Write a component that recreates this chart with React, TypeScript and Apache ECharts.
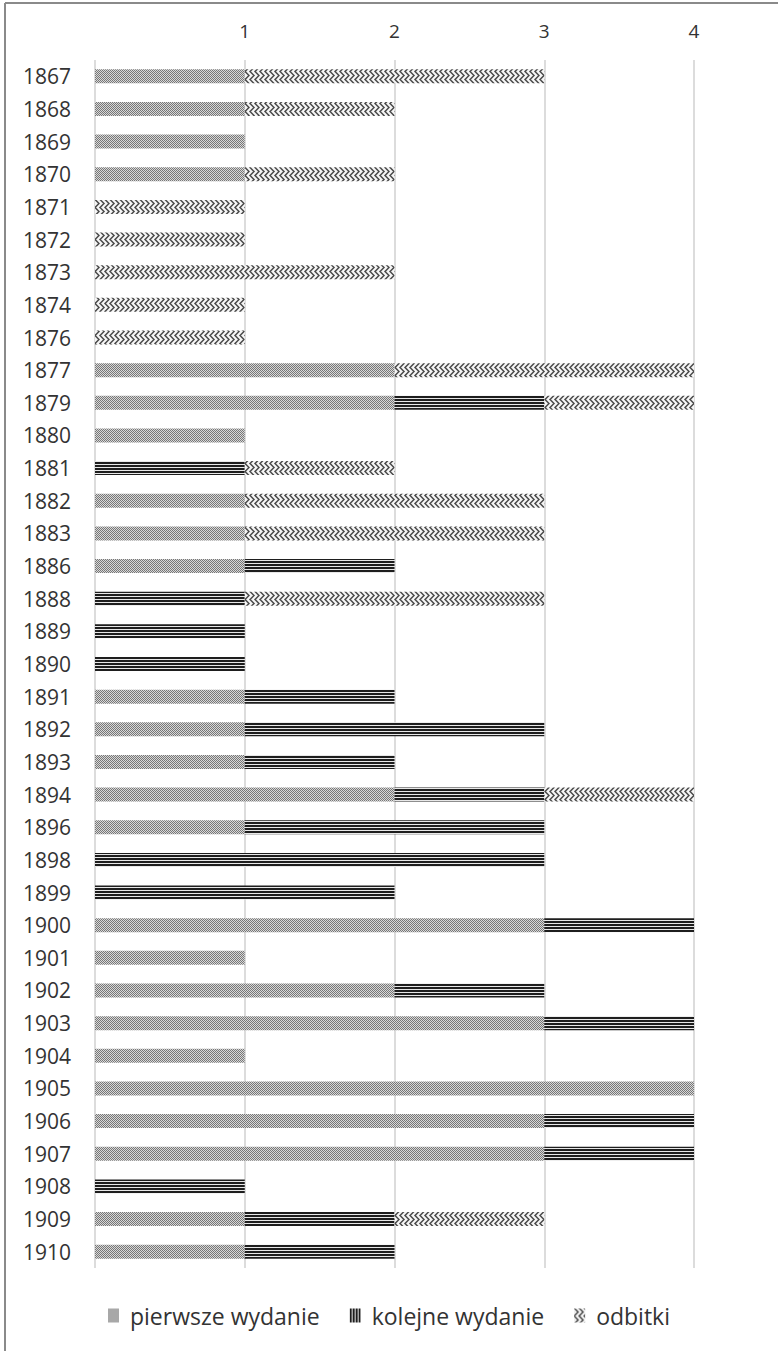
import React, { useEffect, useRef } from "react";
import * as echarts from "echarts";

const years = ["1867","1868","1869","1870","1871","1872","1873","1874","1876","1877","1879","1880","1881","1882","1883","1886","1888","1889","1890","1891","1892","1893","1894","1896","1898","1899","1900","1901","1902","1903","1904","1905","1906","1907","1908","1909","1910"];
const pierwsze = [1,1,1,1,0,0,0,0,0,2,2,1,0,1,1,1,0,0,0,1,1,1,2,1,0,0,3,1,2,3,1,4,3,3,0,1,1];
const kolejne  = [0,0,0,0,0,0,0,0,0,0,1,0,1,0,0,1,1,1,1,1,2,1,1,2,3,2,1,0,1,1,0,0,1,1,1,1,1];
const odbitki  = [2,1,0,1,1,1,2,1,1,2,1,0,1,2,2,0,2,0,0,0,0,0,1,0,0,0,0,0,0,0,0,0,0,0,0,1,0];
const seriesNames = ["pierwsze wydanie", "kolejne wydanie", "odbitki"];
const xTicks = [0, 1, 2, 3, 4];

function makeCanvas(w: number, h: number, draw: (c: CanvasRenderingContext2D) => void) {
  const cv = document.createElement("canvas");
  cv.width = w;
  cv.height = h;
  const ctx = cv.getContext("2d")!;
  draw(ctx);
  return cv;
}

function dotsPattern() {
  return makeCanvas(4, 4, (c) => {
    c.fillStyle = "#d8d8d8";
    c.fillRect(0, 0, 4, 4);
    c.fillStyle = "#777777";
    c.fillRect(0, 0, 1, 1);
    c.fillRect(2, 0, 1, 1);
    c.fillRect(1, 1, 1, 1);
    c.fillRect(3, 1, 1, 1);
    c.fillRect(0, 2, 1, 1);
    c.fillRect(2, 2, 1, 1);
    c.fillRect(1, 3, 1, 1);
    c.fillRect(3, 3, 1, 1);
  });
}

function hLinesPattern() {
  return makeCanvas(4, 3, (c) => {
    c.fillStyle = "#e8e8e8";
    c.fillRect(0, 0, 4, 3);
    c.fillStyle = "#1e1e1e";
    c.fillRect(0, 0, 4, 2);
  });
}

function vLinesPattern() {
  return makeCanvas(3, 4, (c) => {
    c.fillStyle = "#e8e8e8";
    c.fillRect(0, 0, 3, 4);
    c.fillStyle = "#1e1e1e";
    c.fillRect(0, 0, 2, 4);
  });
}

function zigzagPattern() {
  return makeCanvas(10, 8, (c) => {
    c.fillStyle = "#f6f6f6";
    c.fillRect(0, 0, 10, 8);
    c.strokeStyle = "#4a4a4a";
    c.lineWidth = 1.5;
    c.beginPath();
    for (let s = -5; s <= 10; s += 5) {
      c.moveTo(s, -0.5);
      c.lineTo(s + 4, 3.5);
      c.lineTo(s, 7.5);
      c.lineTo(s + 4, 11.5);
    }
    c.stroke();
  });
}

export default function App() {
  const ref = useRef<HTMLDivElement>(null);
  useEffect(() => {
    if (!ref.current) return;
    const chart = echarts.init(ref.current, undefined, { renderer: "svg" });
    const pDots = { image: dotsPattern(), repeat: "repeat" as const };
    const pLines = { image: hLinesPattern(), repeat: "repeat" as const };
    const pVLines = { image: vLinesPattern(), repeat: "repeat" as const };
    const pZig = { image: zigzagPattern(), repeat: "repeat" as const };
    const fills = [pDots, pLines, pZig];
    const legendFills = [pDots, pVLines, pZig];
    const datas = [pierwsze, kolejne, odbitki];
    const font = "'Open Sans', 'Noto Sans', sans-serif";
    chart.setOption({
      animation: false,
      backgroundColor: "#ffffff",
      textStyle: { fontFamily: font },
      grid: { left: 95, right: 84, top: 60, bottom: 83, containLabel: false },
      legend: {
        bottom: 19,
        left: "center",
        itemWidth: 11,
        itemHeight: 14,
        itemGap: 30,
        icon: "rect",
        textStyle: { fontSize: 23, color: "#333", fontFamily: font, padding: [0, 0, 0, 6] },
        data: seriesNames.map((n, i) => ({ name: n, itemStyle: { color: legendFills[i] as any } })),
      },
      xAxis: {
        type: "value",
        position: "top",
        min: 0,
        max: 4,
        interval: 1,
        axisLine: { show: false },
        axisTick: { show: false },
        axisLabel: {
          fontSize: 19,
          color: "#333",
          margin: 20,
          formatter: (v: number) => (v === xTicks[0] ? "" : String(v)),
        },
        splitLine: { show: true, lineStyle: { color: "#d0d0d0", width: 1.5 } },
      },
      yAxis: {
        type: "category",
        inverse: true,
        data: years,
        axisLine: { show: false },
        axisTick: { show: false },
        axisLabel: { fontSize: 21, color: "#333", margin: 24 },
      },
      graphic: [
        { type: "line", shape: { x1: 5, y1: 3, x2: 5, y2: 1351 }, style: { stroke: "#8a8a8a", lineWidth: 2 } },
        { type: "line", shape: { x1: 5, y1: 3, x2: 778, y2: 3 }, style: { stroke: "#8a8a8a", lineWidth: 2 } },
      ],
      series: seriesNames.map((n, i) => ({
        name: n,
        type: "bar",
        stack: "total",
        barWidth: 14,
        data: datas[i],
        itemStyle: { color: fills[i] as any },
      })),
    });
    return () => chart.dispose();
  }, []);
  return (
    <div
      ref={ref}
      style={{ position: "fixed", left: 0, top: 0, width: 778, height: 1351, background: "#fff" }}
    />
  );
}
